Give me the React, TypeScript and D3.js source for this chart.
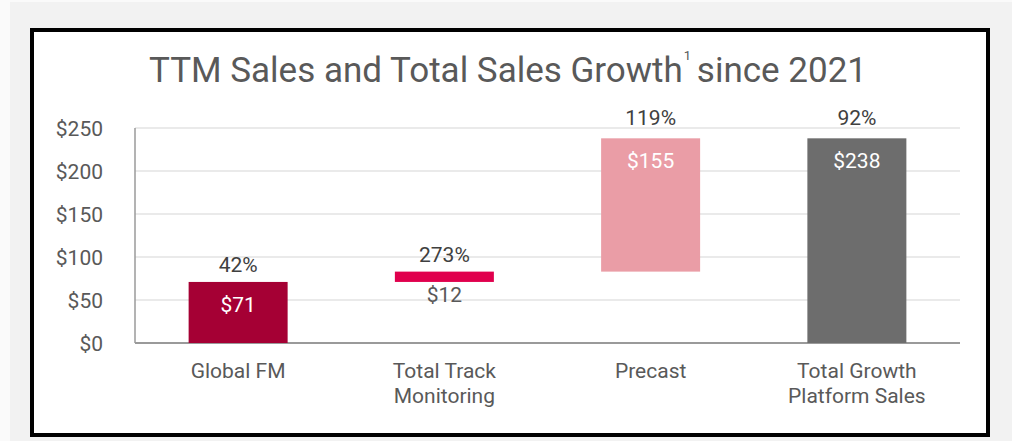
import React from "react";
import * as d3 from "d3";

// chart values
const categories = ["Global FM", "Total Track Monitoring", "Precast", "Total Growth Platform Sales"];
const categoryLines = [["Global FM"], ["Total Track", "Monitoring"], ["Precast"], ["Total Growth", "Platform Sales"]];
const sales = [71, 12, 155, 238];
const growth = ["42%", "273%", "119%", "92%"];
const isTotal = [false, false, false, true];
const barColors = ["#A50034", "#E0004D", "#EA9DA6", "#6D6D6D"];
const yTicks = [0, 50, 100, 150, 200, 250];

const W = 1012;
const H = 441;
const FONT = "Roboto, 'Noto Sans', sans-serif";

export default function App() {
  const x = d3
    .scaleBand<string>()
    .domain(categories)
    .range([135, 960])
    .paddingInner(0.52)
    .paddingOuter(0.26);
  const y = d3.scaleLinear().domain([0, 250]).range([343, 128]);

  // waterfall: each segment stacks on the previous, totals start from zero
  let running = 0;
  const bars = categories.map((c, i) => {
    const start = isTotal[i] ? 0 : running;
    const end = isTotal[i] ? sales[i] : running + sales[i];
    if (!isTotal[i]) running = end;
    return { c, i, start, end };
  });

  return (
    <div style={{ position: "absolute", left: 0, top: 0 }}>
      <svg width={W} height={H} style={{ display: "block", fontFamily: FONT }}>
        <rect x={0} y={0} width={W} height={H} fill="#fafafa" />
        <rect x={10} y={2} width={W - 10} height={H - 2} fill="#f2f2f2" />
        <rect x={32} y={30} width={956} height={405} fill="#fff" stroke="#000" strokeWidth={4} />

        <text x={508} y={82} textAnchor="middle" fontSize={35} fill="#595959">
          TTM Sales and Total Sales Growth
          <tspan fontSize={13} dx={1} dy={-22}>1</tspan>
          <tspan dx={-3} dy={22}> since 2021</tspan>
        </text>

        {/* gridlines and y ticks */}
        {yTicks.map((t) => (
          <g key={t}>
            {t > 0 && (
              <line x1={135} x2={960} y1={y(t)} y2={y(t)} stroke="#e3e3e3" strokeWidth={1.5} />
            )}
            <text x={103} y={y(t)} dy="0.36em" textAnchor="end" fontSize={21} fill="#595959">
              ${t}
            </text>
          </g>
        ))}
        <line x1={135} x2={135} y1={y(250)} y2={y(0)} stroke="#9a9a9a" strokeWidth={1.5} />
        <line x1={135} x2={960} y1={y(0)} y2={y(0)} stroke="#9a9a9a" strokeWidth={2} />

        {bars.map((b) => {
          const bx = x(b.c) as number;
          const bw = x.bandwidth();
          const top = y(b.end);
          const bottom = y(b.start);
          const cx = bx + bw / 2;
          const small = bottom - top < 30;
          return (
            <g key={b.c}>
              <rect x={bx} y={top} width={bw} height={bottom - top} fill={barColors[b.i]} />
              <text x={cx} y={top - (b.end < 100 ? 9.5 : 13)} textAnchor="middle" fontSize={21} fill="#404040">
                {growth[b.i]}
              </text>
              <text
                x={cx}
                y={small ? bottom + 20 : top + 30}
                textAnchor="middle"
                fontSize={21}
                fill={small ? "#595959" : "#fff"}
              >
                ${sales[b.i]}
              </text>
              {categoryLines[b.i].map((ln, k) => (
                <text key={k} x={cx} y={378 + k * 25} textAnchor="middle" fontSize={21} fill="#595959">
                  {ln}
                </text>
              ))}
            </g>
          );
        })}
      </svg>
    </div>
  );
}
